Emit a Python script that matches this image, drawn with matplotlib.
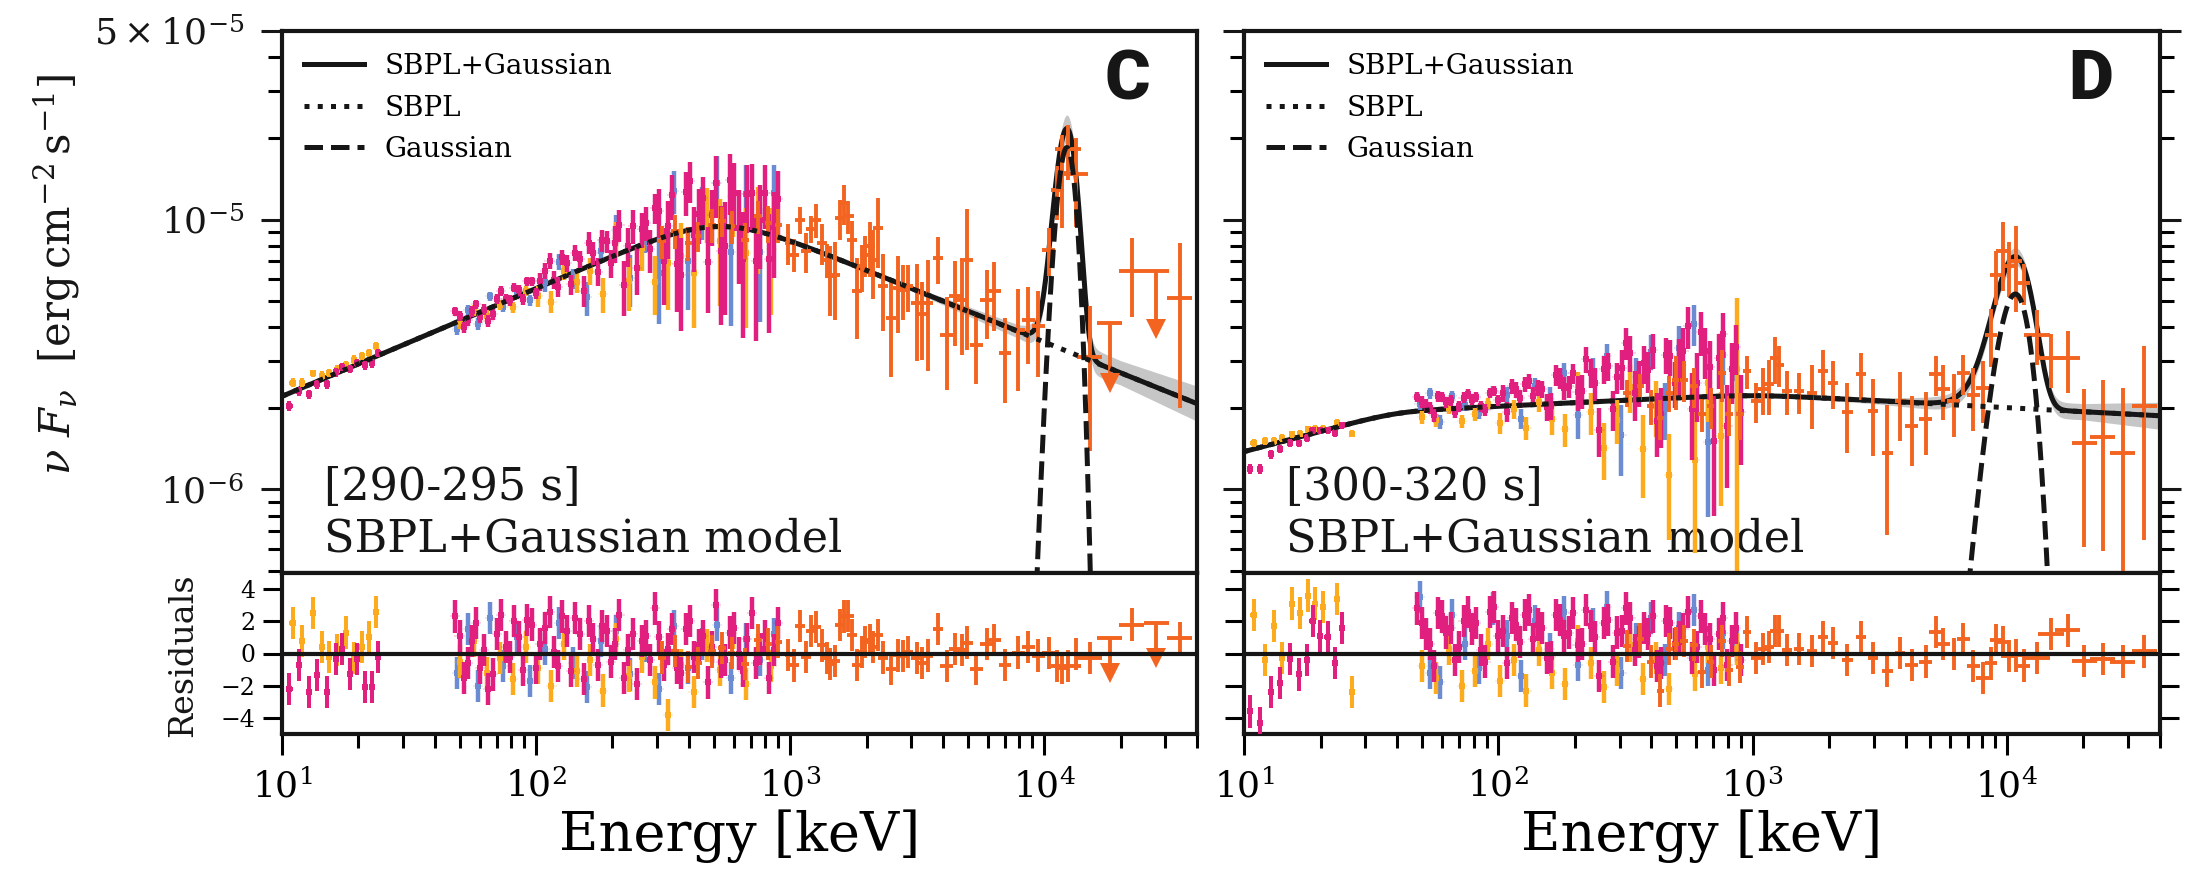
import numpy as np
import matplotlib
matplotlib.use('Agg')
import matplotlib.pyplot as plt
from matplotlib.ticker import LogLocator, NullFormatter, FixedLocator
from matplotlib.lines import Line2D

plt.rcParams['font.family'] = ['DejaVu Serif']
plt.rcParams['mathtext.fontset'] = 'dejavuserif'

# ======================= DATA (flux in 1e-6 erg cm^-2 s^-1, energy in keV) =======================
# ---------- Panel C : [290-295 s] ----------
C_lo_mag_E = [10.7, 11.7, 12.8, 13.7, 15.0, 16.3, 17.2, 18.5, 19.7, 21.2, 22.6, 23.9]
C_lo_mag_F = [2.04, 2.31, 2.25, 2.45, 2.45, 2.72, 2.84, 2.80, 2.94, 2.88, 2.94, 3.21]
C_lo_mag_dF = [0.09, 0.09, 0.09, 0.09, 0.09, 0.10, 0.10, 0.10, 0.10, 0.10, 0.11, 0.11]
C_lo_mag_R = [-2.2, -0.7, -2.4, -1.35, -2.4, -0.35, 0.3, -1.25, -0.35, -2.1, -2.1, -0.2]

C_lo_yel_E = [11.0, 12.0, 13.2, 14.4, 15.3, 16.5, 17.8, 19.2, 20.7, 22.0, 23.5]
C_lo_yel_F = [2.49, 2.49, 2.69, 2.64, 2.70, 2.78, 2.88, 3.03, 3.12, 3.21, 3.40]
C_lo_yel_dF = [0.09, 0.09, 0.09, 0.10, 0.10, 0.10, 0.10, 0.11, 0.11, 0.11, 0.12]
C_lo_yel_R = [1.9, 0.8, 2.5, 0.4, -0.2, 0.2, 1.3, -0.3, 0.4, 1.0, 2.6]

C_mag_E = [48, 52, 56, 60, 65, 70, 76, 82, 89, 96, 104, 113, 122, 132, 143, 155, 168, 182, 197,
           213, 231, 250, 271, 293, 318, 344, 373, 404, 437, 474, 513, 556, 602, 652, 706, 765, 828, 897,
           50, 54, 58, 62.5, 67.5, 73, 79, 85.5, 92.5, 100, 108.5, 117.5, 127, 137.5, 149, 161.5, 175,
           189.5, 205, 222, 240.5, 260.5, 282, 305.5, 331, 358.5, 388.5, 420.5, 455.5, 493.5, 534.5,
           579, 627, 679, 735.5, 796.5, 862.5]
C_mag_F = [4.57, 3.99, 4.57, 4.35, 4.22, 5.08, 5.07, 5.60, 5.06, 5.90, 5.91, 7.05, 5.63, 6.91, 7.54,
           5.46, 7.53, 8.39, 6.90, 9.57, 8.00, 6.59, 9.75, 11.05, 7.05, 12.3, 6.21, 13.94, 10.51, 6.94,
           13.7, 8.0, 12.6, 7.17, 12.6, 10.0, 7.14, 11.9,
           4.41, 4.23, 4.85, 4.64, 4.47, 5.43, 5.02, 5.47, 5.91, 5.34, 6.47, 5.98, 7.25, 5.75, 7.15,
           8.22, 6.42, 8.31, 8.18, 5.71, 9.49, 9.2, 7.76, 10.8, 9.44, 6.86, 12.7, 8.77, 12.0, 10.4,
           7.64, 14.0, 9.33, 12.4, 7.01, 12.6, 9.36]
C_mag_dF = [0.19, 0.19, 0.20, 0.20, 0.21, 0.22, 0.22, 0.23, 0.24, 0.25, 0.45, 0.47, 0.48, 0.50, 0.51,
            0.73, 0.75, 0.78, 0.80, 1.28, 1.32, 1.35, 1.40, 1.44, 2.24, 2.30, 2.35, 2.38, 2.42, 2.44,
            3.58, 3.58, 3.56, 3.53, 3.48, 3.42, 3.35, 3.27,
            0.19, 0.20, 0.20, 0.21, 0.21, 0.22, 0.23, 0.24, 0.24, 0.25, 0.46, 0.47, 0.49, 0.50, 0.52,
            0.74, 0.77, 0.79, 1.26, 1.30, 1.34, 1.38, 1.42, 2.22, 2.28, 2.33, 2.37, 2.40, 2.43, 2.45,
            3.58, 3.57, 3.55, 3.50, 3.45, 3.38, 3.31]
C_mag_R = [2.3, -1.5, 0.8, -0.9, -2.2, 1.2, 0.4, 2.0, -1.0, 1.8, 0.6, 2.6, -0.8, 1.4, 2.2, -1.6, 0.9,
           1.7, -0.5, 2.4, 0.2, -1.9, 1.1, 2.8, -0.7, 1.5, -1.2, 2.0, 0.5, -1.8, 3.0, -0.4, 1.6, -1.1,
           2.5, 0.3, -1.5, 1.9,
           1.1, -0.6, 1.9, 0.2, -1.3, 2.4, -0.2, 1.0, 2.1, -0.9, 1.6, 0.1, 2.3, -1.1, 1.2, 2.0, -0.7,
           1.4, 0.6, -1.5, 1.2, 0.8, -0.4, 1.0, 0.3, -0.9, 1.5, -0.2, 1.1, 0.4, -0.5, 1.3, 0.0, 0.9,
           -0.6, 1.1, 0.2]

C_yel_E = [50, 57, 64, 72, 81, 91, 102, 115, 129, 145, 163, 183, 206, 232, 261, 293, 330, 371, 417,
           469, 528, 594, 668, 751, 845]
C_yel_F = [4.11, 4.61, 4.40, 4.83, 4.73, 5.45, 5.20, 4.96, 6.45, 5.88, 6.45, 5.30, 8.53, 5.91, 7.82,
           5.86, 6.90, 7.36, 6.36, 10.6, 8.35, 12.2, 7.5, 9.74, 7.75]
C_yel_dF = [0.19, 0.20, 0.21, 0.22, 0.23, 0.24, 0.45, 0.47, 0.49, 0.52, 0.74, 0.78, 1.26, 1.32, 1.38,
            1.44, 2.28, 2.34, 2.40, 2.44, 3.58, 3.56, 3.52, 3.44, 3.33]
C_yel_R = [-0.5, 0.8, -1.2, -0.3, -1.6, 0.4, -0.9, -2.0, 0.6, -1.1, -0.4, -2.3, 0.9, -1.4, -0.2, -1.8,
           -3.8, -0.7, -2.4, 0.5, -1.0, 1.3, -1.9, 0.2, -0.8]

C_blu_E = [49, 54, 59, 66, 74, 84, 95, 108, 123, 140, 159, 181, 206, 235, 268, 305, 348, 397, 452,
           515, 587, 669, 762, 868]
C_blu_F = [3.94, 4.62, 4.10, 5.19, 4.76, 5.41, 5.02, 5.86, 6.96, 6.06, 5.15, 7.67, 9.16, 6.08, 8.90,
           6.33, 12.8, 7.0, 10.8, 13.7, 7.6, 12.4, 7.6, 12.6]
C_blu_dF = [0.19, 0.19, 0.20, 0.21, 0.22, 0.23, 0.24, 0.46, 0.48, 0.51, 0.74, 0.78, 1.26, 1.33, 1.39,
            2.22, 2.31, 2.38, 2.43, 3.58, 3.57, 3.52, 3.42, 3.30]
C_blu_R = [-1.2, 1.5, -2.0, 2.2, -0.8, 1.0, -1.7, 0.3, 1.9, -0.6, -2.1, 0.8, 1.4, -1.3, 0.5, -2.2, 1.7,
           -0.9, 0.6, 1.8, -1.5, 0.9, -0.4, 1.2]

C_bgo_E = [313, 353, 398, 436, 492, 539, 589, 665, 750, 822, 900, 985, 1040, 1096, 1154, 1211, 1266,
           1333, 1394, 1438, 1504, 1574, 1637, 1698, 1759, 1829, 1914, 1972, 2065, 2128, 2225, 2328,
           2495, 2666, 2791, 2919, 3148, 3296, 3481, 3812, 4132, 4456, 4732, 4955, 5420, 5938, 6364,
           7010, 7915, 8660, 9480, 10440, 11290, 11780, 12440, 13330, 15130, 22100, 34200]
C_bgo_F = [8.31, 9.08, 8.19, 8.67, 9.58, 9.86, 9.45, 8.43, 10.3, 9.72, 9.58, 8.19, 7.42, 10.0, 7.63,
           9.24, 10.0, 8.19, 7.11, 6.17, 6.25, 10.1, 11.5, 10.3, 8.43, 5.42, 6.71, 7.42, 7.96, 7.11,
           9.31, 5.66, 4.32, 5.58, 5.50, 5.66, 4.91, 4.45, 4.91, 7.21, 3.75, 5.20, 5.05, 7.1, 3.44,
           5.05, 5.42, 3.21, 3.91, 4.26, 4.02, 7.74, 12.9, 14.9, 18.2, 14.7, 3.09, 6.44, 5.1]
C_bgo_dF = [1.18, 1.29, 1.16, 1.10, 1.36, 1.25, 1.34, 1.30, 1.46, 1.50, 1.36, 1.40, 1.05, 1.14, 1.30,
            1.05, 1.42, 1.40, 1.01, 1.78, 1.99, 1.73, 1.97, 1.46, 1.44, 1.80, 1.34, 1.27, 1.82, 2.05,
            2.68, 1.80, 1.70, 1.77, 1.26, 1.13, 1.93, 1.42, 2.16, 1.44, 1.42, 1.81, 1.91, 3.8, 0.99,
            1.45, 1.56, 1.12, 1.60, 1.35, 1.40, 1.55, 2.95, 5.6, 4.2, 5.3, 1.7, 2.1, 3.1]
C_bgo_R = [-0.25, 0.16, -0.83, -0.57, 0.13, 0.34, 0.04, -0.65, 0.86, 0.58, 0.72, -0.11, -0.74, 1.7,
           -0.2, 1.4, 1.65, 0.5, -0.27, -0.63, -0.47, 1.76, 2.3, 2.35, 1.15, -0.7, 0.1, 0.72, 0.86,
           0.38, 1.15, -0.25, -0.96, -0.12, -0.14, 0.07, -0.26, -0.61, -0.13, 1.52, -0.78, 0.27, 0.23,
           0.68, -0.95, 0.57, 0.83, -0.69, 0.06, 0.38, -0.13, 0.03, -0.8, -0.9, -0.8, -0.04, -0.3, 1.8,
           0.94]
# BGO upper limits (value of the limit and tip of the arrow)
C_ul_E = [18100, 27700]
C_ul_F = [4.14, 6.44]
C_ul_tip = [2.48, 3.92]
C_ul_R = [0.97, 1.9]
C_ul_Rtip = [-1.2, -0.25]

# model parameters C: smoothly broken power law (log10 space) + Gaussian line
C_sbpl_logA, C_sbpl_a0 = -6.055, 0.40
C_sbpl_breaks = [(2.72, 0.25, -0.78)]
C_line = (18.5, 12300.0, 1080.0)          # amplitude (1e-6), centre (keV), sigma (keV)
C_band_logE = [3.0, 3.5, 3.9, 4.02, 4.15, 4.3, 4.6]
C_band_dex = [0.0, 0.01, 0.025, 0.05, 0.05, 0.045, 0.065]

# ---------- Panel D : [300-320 s] ----------
D_lo_mag_E = [10.6, 11.6, 12.8, 13.9, 15.2, 16.4, 17.7, 18.6, 19.9, 21.3, 22.8, 24.2]
D_lo_mag_F = [1.19, 1.19, 1.35, 1.41, 1.49, 1.48, 1.55, 1.66, 1.66, 1.66, 1.62, 1.73]
D_lo_mag_dF = [0.05, 0.05, 0.05, 0.05, 0.05, 0.05, 0.05, 0.05, 0.05, 0.05, 0.05, 0.05]
D_lo_mag_R = [-3.6, -4.3, -2.4, -1.85, -0.35, -1.3, -0.4, 2.0, 1.1, 1.0, -0.6, 1.6]

D_lo_yel_E = [10.9, 12.1, 13.1, 14.1, 15.4, 16.6, 17.9, 19.0, 20.5, 23.2, 26.5]
D_lo_yel_F = [1.49, 1.51, 1.51, 1.55, 1.60, 1.61, 1.67, 1.68, 1.68, 1.77, 1.61]
D_lo_yel_dF = [0.05, 0.05, 0.05, 0.05, 0.05, 0.05, 0.05, 0.05, 0.05, 0.05, 0.05]
D_lo_yel_R = [2.4, -0.4, 1.7, -0.3, 3.1, 2.5, 3.6, 3.1, 2.9, 3.4, -2.4]

D_mag_E = [48, 52, 56, 60, 65, 70, 76, 82, 89, 96, 104, 113, 122, 132, 143, 155, 168, 182, 197,
           213, 231, 250, 271, 293, 318, 344, 373, 404, 437, 474, 513, 556, 602, 652, 706, 765, 828, 897,
           50, 54, 58, 62.5, 67.5, 73, 79, 85.5, 92.5, 100, 108.5, 117.5, 127, 137.5, 149, 161.5, 175,
           189.5, 205, 222, 240.5, 260.5, 282, 305.5, 331, 358.5, 388.5, 420.5, 455.5, 493.5, 534.5,
           579, 627, 679, 735.5, 796.5, 862.5]
D_mag_F = [2.20, 2.06, 1.88, 2.20, 2.14, 2.03, 2.26, 2.20, 1.97, 2.32, 2.27, 2.41, 2.18, 2.52, 2.38,
           2.02, 2.65, 2.37, 2.69, 2.32, 2.71, 1.66, 2.86, 2.60, 3.49, 2.27, 2.93, 3.28, 1.90, 3.11,
           2.90, 4.03, 2.49, 3.27, 1.51, 3.78, 2.79, 1.94,
           2.11, 2.00, 2.21, 2.10, 1.94, 2.19, 2.15, 2.03, 2.28, 2.14, 1.94, 2.35, 2.46, 2.22, 2.35,
           2.04, 2.59, 2.41, 2.29, 3.04, 2.47, 2.79, 1.98, 2.81, 3.21, 2.50, 2.76, 1.80, 3.15, 2.48,
           3.26, 1.99, 3.84, 2.85, 3.07, 1.72, 3.36]
D_mag_dF = [0.10, 0.10, 0.10, 0.10, 0.10, 0.10, 0.10, 0.10, 0.10, 0.10, 0.16, 0.16, 0.16, 0.16, 0.16,
            0.23, 0.23, 0.23, 0.23, 0.34, 0.34, 0.34, 0.34, 0.34, 0.48, 0.48, 0.48, 0.48, 0.48, 0.48,
            0.71, 0.71, 0.71, 0.71, 0.71, 0.71, 0.71, 0.71,
            0.10, 0.10, 0.10, 0.10, 0.10, 0.10, 0.10, 0.10, 0.10, 0.10, 0.16, 0.16, 0.16, 0.17, 0.17,
            0.23, 0.23, 0.23, 0.34, 0.34, 0.34, 0.34, 0.34, 0.47, 0.48, 0.48, 0.48, 0.48, 0.48, 0.48,
            0.70, 0.70, 0.71, 0.71, 0.71, 0.71, 0.71]
D_mag_R = [2.8, 1.2, -0.8, 2.3, 1.6, 0.4, 2.6, 1.9, -0.5, 2.9, 1.4, 2.2, 0.7, 2.7, 1.8, -0.3, 2.4, 1.1,
           2.5, 0.6, 1.7, -1.4, 2.1, 1.3, 2.8, 0.2, 1.6, 2.3, -0.6, 1.9, 1.0, 2.6, 0.4, 1.5, -1.0, 2.2,
           0.8, -0.4,
           1.9, 0.6, 2.5, 1.3, -0.4, 2.0, 1.5, 0.2, 2.6, 1.1, -0.6, 1.8, 2.4, 0.9, 1.6, -0.2, 2.1, 1.3,
           0.5, 2.7, 1.0, 1.9, -0.5, 1.4, 2.2, 0.7, 1.2, -0.8, 2.0, 0.6, 1.5, -0.3, 2.3, 0.9, 1.2, -0.7,
           1.6]

D_yel_E = [50, 57, 64, 72, 81, 91, 102, 115, 129, 145, 163, 183, 206, 232, 261, 293, 330, 371, 417,
           469, 528, 594, 668, 751, 870]
D_yel_F = [1.85, 1.81, 2.00, 1.79, 1.90, 2.08, 1.76, 1.98, 1.69, 2.11, 1.82, 1.67, 2.39, 1.93, 1.42,
           1.81, 2.40, 1.41, 2.04, 1.13, 2.90, 1.29, 2.49, 1.58, 2.8]
D_yel_dF = [0.10, 0.10, 0.10, 0.10, 0.10, 0.10, 0.16, 0.16, 0.17, 0.17, 0.23, 0.23, 0.34, 0.34, 0.34,
            0.34, 0.48, 0.48, 0.48, 0.48, 0.70, 0.71, 0.71, 0.71, 2.3]
D_yel_R = [-0.8, -1.5, 0.3, -2.0, -1.1, 0.6, -1.7, -0.4, -2.3, 0.2, -1.2, -1.9, 0.8, -0.6, -2.1, -1.0,
           0.5, -1.6, -0.3, -2.2, 1.0, -1.3, 0.4, -0.9, 0.3]

D_blu_E = [49, 54, 59, 66, 74, 84, 95, 108, 123, 140, 159, 181, 206, 235, 268, 305, 348, 397, 452,
           515, 587, 669, 762, 868]
D_blu_F = [2.07, 2.27, 1.78, 2.22, 2.05, 1.92, 2.31, 2.23, 1.83, 2.41, 2.16, 2.71, 1.88, 2.74, 3.13,
           1.59, 2.60, 3.24, 2.00, 3.33, 4.12, 1.50, 3.14, 2.58]
D_blu_dF = [0.10, 0.10, 0.10, 0.10, 0.10, 0.10, 0.10, 0.16, 0.16, 0.17, 0.23, 0.23, 0.34, 0.34, 0.34,
            0.47, 0.48, 0.48, 0.48, 0.70, 0.71, 0.71, 0.71, 0.71]
D_blu_R = [3.5, -1.2, -1.8, 2.4, 0.6, -0.9, 2.8, 1.1, -1.4, 2.0, 0.3, 2.6, -0.7, 1.8, 2.9, -1.2, 0.9,
           2.2, -0.4, 1.6, 2.7, -1.0, 1.3, 0.5]

D_bgo_E = [321, 362, 397, 434, 469, 498, 537, 588, 634, 684, 760, 807, 891, 953, 1028, 1102, 1160,
           1222, 1270, 1361, 1522, 1717, 1891, 2078, 2360, 2663, 2985, 3390, 3805, 4228, 4800, 5250,
           5630, 6170, 6730, 7390, 8020, 8650, 9060, 9620, 10220, 10850, 11690, 13120, 14890, 17330,
           20150, 23800, 28530, 34750]
D_bgo_F = [2.28, 2.41, 2.03, 1.84, 2.28, 2.55, 2.55, 2.41, 1.90, 2.03, 2.70, 1.90, 1.90, 2.74, 2.12,
           2.35, 2.45, 3.07, 2.90, 2.31, 2.31, 2.28, 2.74, 2.48, 1.93, 2.67, 1.95, 1.37, 2.12, 1.72,
           1.82, 2.67, 2.35, 2.12, 2.70, 2.23, 2.38, 3.75, 6.25, 7.63, 6.71, 7.0, 5.83, 3.75, 3.07,
           3.07, 1.48, 1.57, 1.37, 2.03]
D_bgo_dF = [0.26, 0.26, 0.30, 0.31, 0.35, 0.58, 0.45, 0.40, 0.27, 0.35, 0.60, 0.32, 0.38, 0.39, 0.36,
            0.47, 0.56, 0.61, 0.50, 0.43, 0.40, 0.60, 0.55, 0.50, 0.56, 0.53, 0.62, 0.69, 0.61, 0.50,
            0.48, 0.46, 0.54, 0.55, 0.46, 0.58, 0.62, 0.90, 1.43, 2.2, 1.54, 2.44, 1.0, 0.86, 0.70,
            0.79, 0.87, 0.98, 1.0, 1.38]
D_bgo_R = [0.46, 0.92, -0.5, -2.3, 0.26, 0.62, 0.78, 0.52, -1.15, -0.5, 0.8, -1.0, -0.84, 1.33, -0.28,
           0.28, 0.41, 1.41, 1.38, 0.23, 0.28, 0.15, 1.04, 0.64, -0.39, 1.02, -0.27, -1.06, 0.05, -0.7,
           -0.5, 1.35, 0.57, -0.04, 0.89, -0.76, -1.53, -0.62, 0.82, 0.69, -0.17, -0.12, -0.75, -0.27,
           1.21, 1.43, -0.49, -0.33, -0.5, 0.13]

D_sbpl_logA, D_sbpl_a0 = -6.11, 0.25
D_sbpl_breaks = [(1.6, 0.15, -0.205), (3.0, 0.2, -0.095)]
D_line = (5.3, 10800.0, 1670.0)
D_band_logE = [2.8, 3.5, 3.85, 3.95, 4.15, 4.3, 4.6]
D_band_dex = [0.0, 0.012, 0.03, 0.035, 0.03, 0.03, 0.05]

# ======================= STYLE =======================
COL_MAG = '#e01f7f'
COL_YEL = '#fdab1e'
COL_BLU = '#6b8bd3'
COL_BGO = '#f2641f'
BLACK = '#161616'
XMIN, XMAX = 10, 4.0e4
YMIN, YMAX = 4.9e-7, 5e-5
SC = 1e-6


def sbpl(E, logA, a0, breaks):
    x = np.log10(E)
    y = logA + a0 * x
    for xb, w, d in breaks:
        y = y + d * w * np.log10(1 + 10 ** ((x - xb) / w))
    return 10 ** y


def gauss(E, line):
    A, E0, s = line
    return A * SC * np.exp(-0.5 * ((E - E0) / s) ** 2)


def bgo_hw(E):
    E = np.asarray(E, float)
    return np.where(E < 1000, 0.015, np.where(E < 4000, 0.02, np.where(E < 12000, 0.025, 0.05)))


def xerr_from_hw(E, hw):
    E = np.asarray(E, float)
    return [E - E / 10 ** hw, E * 10 ** hw - E]


def draw_set(ax, axr, E, F, dF, R, color, kind, z):
    E = np.asarray(E, float)
    F = np.asarray(F, float) * SC
    dF = np.asarray(dF, float) * SC
    R = np.asarray(R, float)
    if kind == 'nai':
        xe = xerr_from_hw(E, 0.02)
        for a, y, ye in ((ax, F, dF), (axr, R, np.ones_like(R))):
            a.errorbar(E, y, xerr=xe, fmt='none', ecolor=color, elinewidth=1.5, alpha=0.18, zorder=z)
            a.errorbar(E, y, yerr=ye, fmt='s', ms=4.2, mew=0, color=color, ecolor=color,
                       elinewidth=3.2, capsize=0, zorder=z)
    elif kind == 'lo':
        xe = xerr_from_hw(E, 0.012)
        for a, y, ye in ((ax, F, dF), (axr, R, np.ones_like(R))):
            a.errorbar(E, y, xerr=xe, yerr=ye, fmt='s', ms=4.0, mew=0, color=color, ecolor=color,
                       elinewidth=2.9, capsize=0, zorder=z)
    else:
        xe = xerr_from_hw(E, bgo_hw(E))
        for a, y, ye in ((ax, F, dF), (axr, R, np.ones_like(R))):
            a.errorbar(E, y, xerr=xe, yerr=ye, fmt='s', ms=3.2, mew=0, color=color, ecolor=color,
                       elinewidth=2.8, capsize=0, zorder=z)


def draw_ul(ax, axr, E, Fcap, Ftip, Rcap, Rtip, color, z):
    E = np.asarray(E, float)
    xe = xerr_from_hw(E, bgo_hw(E))
    for a, cap, tip in ((ax, np.asarray(Fcap) * SC, np.asarray(Ftip) * SC),
                        (axr, np.asarray(Rcap, float), np.asarray(Rtip, float))):
        a.errorbar(E, cap, xerr=xe, yerr=[cap - tip, np.zeros_like(cap)], fmt='none', ecolor=color,
                   elinewidth=2.8, capsize=0, zorder=z)
        a.plot(E, tip, 'v', color=color, ms=15, mew=0, zorder=z)


def style_axes(ax, axr, left):
    for a in (ax, axr):
        a.set_xscale('log')
        a.set_xlim(XMIN, XMAX)
        for sp in a.spines.values():
            sp.set_linewidth(3.0)
            sp.set_color(BLACK)
    ax.set_yscale('log')
    ax.set_ylim(YMIN, YMAX)
    ax.tick_params(axis='x', which='both', bottom=False, top=False, labelbottom=False)
    ax.yaxis.set_major_locator(FixedLocator([1e-6, 1e-5, 5e-5]))
    ax.yaxis.set_minor_locator(LogLocator(base=10, subs=np.arange(2, 10)))
    ax.yaxis.set_minor_formatter(NullFormatter())
    if left:
        ax.set_yticklabels([r'$10^{-6}$', r'$10^{-5}$', r'$5\times10^{-5}$'])
    ax.tick_params(axis='y', which='major', direction='out', length=15, width=2.2, labelsize=26,
                   pad=12, left=True, right=not left, labelleft=left, colors=BLACK)
    ax.tick_params(axis='y', which='minor', direction='out', length=10, width=2.2,
                   left=True, right=not left)
    axr.set_ylim(-5, 5)
    axr.set_yticks([-4, -2, 0, 2, 4])
    axr.tick_params(axis='y', which='major', direction='out', length=14, width=2.2, labelsize=17,
                    pad=5, left=True, right=not left, labelleft=left)
    axr.xaxis.set_major_locator(LogLocator(base=10, numticks=10))
    axr.xaxis.set_minor_locator(LogLocator(base=10, subs=np.arange(2, 10), numticks=50))
    axr.xaxis.set_minor_formatter(NullFormatter())
    axr.tick_params(axis='x', which='major', direction='out', length=15, width=2.2, labelsize=26, pad=10)
    axr.tick_params(axis='x', which='minor', direction='out', length=10, width=2.2)
    axr.axhline(0, color=BLACK, lw=3.0, zorder=9)
    axr.set_xlabel('Energy [keV]', fontsize=39, labelpad=4)


def draw_panel(ax, axr, sets, logA, a0, breaks, line, band_x, band_d, ul, letter, annot, xann, left):
    Eg = np.logspace(np.log10(XMIN), np.log10(XMAX), 2500)
    base = sbpl(Eg, logA, a0, breaks)
    g = gauss(Eg, line)
    tot = base + g
    d = np.interp(np.log10(Eg), band_x, band_d)
    ax.fill_between(Eg, tot * 10 ** (-d), tot * 10 ** d, color='#c6c6c6', lw=0, zorder=1)
    ax.plot(Eg, tot, '-', color=BLACK, lw=3.6, zorder=2)
    for z, (E, F, dF, R, col, kind) in enumerate(sets):
        draw_set(ax, axr, E, F, dF, R, col, kind, 3 + z)
    if ul is not None:
        draw_ul(ax, axr, *ul, COL_BGO, 3 + len(sets))
    ax.plot(Eg, base, ':', color=BLACK, lw=3.6, zorder=12)
    ax.plot(Eg, np.maximum(g, 1e-12), '--', color=BLACK, lw=3.6, zorder=12)
    style_axes(ax, axr, left)
    handles = [Line2D([], [], color=BLACK, lw=3.6, ls='-'),
               Line2D([], [], color=BLACK, lw=3.6, ls=':'),
               Line2D([], [], color=BLACK, lw=3.6, ls='--')]
    ax.legend(handles, ['SBPL+Gaussian', 'SBPL', 'Gaussian'], loc='upper left', frameon=False,
              fontsize=20, handlelength=2.15, handletextpad=0.75, labelspacing=0.52,
              borderaxespad=0.4, borderpad=0.4)
    ax.text(0.924, 0.908, letter, transform=ax.transAxes, ha='center', va='center', fontsize=50,
            fontweight='heavy', family=['Roboto', 'DejaVu Sans'], color=BLACK)
    ax.text(xann, 0.135, annot[0], transform=ax.transAxes, ha='left', va='baseline', fontsize=32,
            color=BLACK)
    ax.text(xann, 0.039, annot[1], transform=ax.transAxes, ha='left', va='baseline', fontsize=32,
            color=BLACK)


fig = plt.figure(figsize=(21.92, 8.76), dpi=100)
W, H = 2192.0, 876.0
top_y0, top_y1, res_y0 = 31, 573, 734
axC = fig.add_axes([282 / W, 1 - top_y1 / H, 915 / W, (top_y1 - top_y0) / H])
axCr = fig.add_axes([282 / W, 1 - res_y0 / H, 915 / W, (res_y0 - top_y1) / H])
axD = fig.add_axes([1244 / W, 1 - top_y1 / H, 916 / W, (top_y1 - top_y0) / H])
axDr = fig.add_axes([1244 / W, 1 - res_y0 / H, 916 / W, (res_y0 - top_y1) / H])

C_sets = [(C_blu_E, C_blu_F, C_blu_dF, C_blu_R, COL_BLU, 'nai'),
          (C_yel_E, C_yel_F, C_yel_dF, C_yel_R, COL_YEL, 'nai'),
          (C_lo_yel_E, C_lo_yel_F, C_lo_yel_dF, C_lo_yel_R, COL_YEL, 'lo'),
          (C_mag_E, C_mag_F, C_mag_dF, C_mag_R, COL_MAG, 'nai'),
          (C_lo_mag_E, C_lo_mag_F, C_lo_mag_dF, C_lo_mag_R, COL_MAG, 'lo'),
          (C_bgo_E, C_bgo_F, C_bgo_dF, C_bgo_R, COL_BGO, 'bgo')]
D_sets = [(D_blu_E, D_blu_F, D_blu_dF, D_blu_R, COL_BLU, 'nai'),
          (D_yel_E, D_yel_F, D_yel_dF, D_yel_R, COL_YEL, 'nai'),
          (D_lo_yel_E, D_lo_yel_F, D_lo_yel_dF, D_lo_yel_R, COL_YEL, 'lo'),
          (D_mag_E, D_mag_F, D_mag_dF, D_mag_R, COL_MAG, 'nai'),
          (D_lo_mag_E, D_lo_mag_F, D_lo_mag_dF, D_lo_mag_R, COL_MAG, 'lo'),
          (D_bgo_E, D_bgo_F, D_bgo_dF, D_bgo_R, COL_BGO, 'bgo')]

draw_panel(axC, axCr, C_sets, C_sbpl_logA, C_sbpl_a0, C_sbpl_breaks, C_line, C_band_logE, C_band_dex,
           (C_ul_E, C_ul_F, C_ul_tip, C_ul_R, C_ul_Rtip), 'C',
           ('[290-295 s]', 'SBPL+Gaussian model'), 0.046, True)
draw_panel(axD, axDr, D_sets, D_sbpl_logA, D_sbpl_a0, D_sbpl_breaks, D_line, D_band_logE, D_band_dex,
           None, 'D', ('[300-320 s]', 'SBPL+Gaussian model'), 0.046, False)

fig.text(57 / W, 1 - 275 / H, r'$\nu\ F_{\nu}\ \ [\mathrm{erg\,cm^{-2}\,s^{-1}}]$', rotation=90,
         ha='center', va='center', fontsize=30, color=BLACK)
fig.text(183 / W, 1 - 655 / H, 'Residuals', rotation=90, ha='center', va='center', fontsize=24,
         color=BLACK)

fig.savefig('out.png', dpi=100)
